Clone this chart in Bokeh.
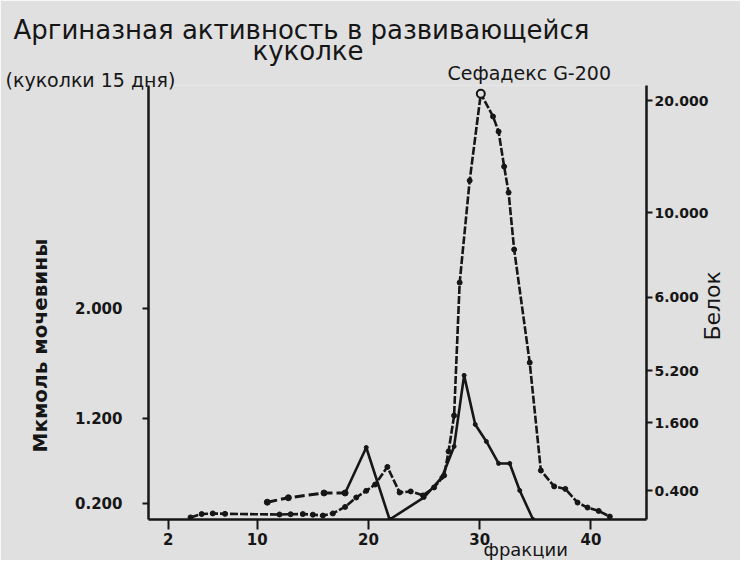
from bokeh.plotting import figure
from bokeh.models import Range1d, LinearAxis, FixedTicker, Title
from bokeh.embed import file_html
from bokeh.resources import INLINE
import math

# ---- data ----
# activity (left axis, "Мкмоль мочевины")
act_dash_fr = [10.9, 12.8, 16.0, 17.9]
act_dash_val = [0.164, 0.206, 0.251, 0.251]
act_fr = [17.9, 19.8, 21.9, 25.0, 26.6, 27.7, 28.6, 29.6, 30.6, 31.7, 32.7, 33.6, 34.8]
act_val = [0.251, 0.682, 0.0, 0.209, 0.398, 0.692, 1.365, 0.90, 0.739, 0.531, 0.531, 0.275, 0.0]

# protein (right axis, "Белок")
prot_fr = [4.0, 5.0, 6.0, 7.1, 12.0, 13.0, 14.1, 15.0, 15.9, 16.8, 17.9, 18.9, 19.8, 20.6,
           21.7, 22.8, 23.8, 24.9, 25.9, 26.8, 27.2, 27.7, 28.2, 29.1, 30.1, 31.2, 31.7,
           32.2, 32.6, 33.1, 34.5, 35.5, 36.7, 37.7, 38.8, 39.7, 40.7, 41.7]
prot_val = [0.10, 0.26, 0.29, 0.27, 0.24, 0.25, 0.26, 0.23, 0.19, 0.29, 0.60, 1.05, 1.37, 1.67,
            2.51, 1.29, 1.34, 1.15, 1.53, 2.10, 3.25, 4.96, 11.31, 16.18, 20.33, 19.24, 18.52,
            16.85, 15.61, 12.89, 7.49, 2.34, 1.58, 1.46, 0.81, 0.57, 0.41, 0.14]

x_ticks = [2, 10, 20, 30, 40]
left_tick_pos = [0.152, 0.957, 2.0]
left_tick_labels = ["0.200", "1.200", "2.000"]
right_tick_pos = [1.38, 4.63, 7.11, 10.6, 14.65, 20.0]
right_tick_labels = ["0.400", "1.600", "5.200", "6.000", "10.000", "20.000"]

title_line1 = "Аргиназная   активность  в  развивающейся"
title_line2 = "куколке"
subtitle_left = "(куколки 15 дня)"
subtitle_right = "Сефадекс  G-200"
x_label = "фракции"
left_label = "Мкмоль мочевины"
right_label = "Белок"
right_label_at = 8.54   # where the right-hand title starts (protein axis units)

BG = "#e0e0e0"
INK = "#161616"
FONT = "DejaVu Sans"

p = figure(width=740, height=560, output_backend="svg", toolbar_location=None,
           x_range=Range1d(0.22, 45.0), y_range=Range1d(0, 4.11),
           background_fill_color=BG, border_fill_color=BG, outline_line_color=None)
p.min_border_left = 148
p.min_border_right = 88
p.min_border_top = 85
p.min_border_bottom = 41
p.extra_y_ranges = {"prot": Range1d(0, 20.72)}
p.xgrid.visible = False
p.ygrid.visible = False


def style_axis(ax, tick_out, standoff, fs):
    ax.axis_line_width = 2.5
    ax.axis_line_color = INK
    ax.major_tick_line_width = 2
    ax.major_tick_line_color = INK
    ax.major_tick_out = tick_out
    ax.major_tick_in = 0
    ax.minor_tick_line_color = None
    ax.major_label_text_font = FONT
    ax.major_label_text_font_style = "bold"
    ax.major_label_text_font_size = fs
    ax.major_label_text_color = INK
    ax.major_label_standoff = standoff


for ax in p.xaxis:
    ax.ticker = FixedTicker(ticks=x_ticks)
    style_axis(ax, 10, 3, "15px")

for ax in p.yaxis:
    ax.ticker = FixedTicker(ticks=left_tick_pos)
    ax.major_label_overrides = dict(zip(left_tick_pos, left_tick_labels))
    style_axis(ax, 6, 20, "15px")

rax = LinearAxis(y_range_name="prot", ticker=FixedTicker(ticks=right_tick_pos),
                 major_label_overrides=dict(zip(right_tick_pos, right_tick_labels)))
style_axis(rax, 6, 2, "14px")
p.add_layout(rax, "right")

# right-hand title "Белок", written bottom-to-top
rlab = LinearAxis(y_range_name="prot", ticker=FixedTicker(ticks=[right_label_at]),
                  major_label_overrides={right_label_at: right_label})
rlab.axis_line_color = None
rlab.major_tick_line_color = None
rlab.minor_tick_line_color = None
rlab.major_tick_out = 0
rlab.major_tick_in = 0
rlab.major_label_standoff = 1
rlab.major_label_orientation = math.pi / 2
rlab.major_label_text_font = FONT
rlab.major_label_text_font_size = "22px"
rlab.major_label_text_color = INK
p.add_layout(rlab, "right")

# protein curve (dashed with dots)
p.line(prot_fr, prot_val, y_range_name="prot", line_color=INK, line_width=2.6, line_dash="8 2")
p.scatter(prot_fr, prot_val, y_range_name="prot", size=5, fill_color=INK, line_color=INK)
imax = prot_val.index(max(prot_val))
p.scatter([prot_fr[imax]], [prot_val[imax]], y_range_name="prot", size=8,
          fill_color=BG, line_color=INK, line_width=2)

# activity curve
p.line(act_dash_fr, act_dash_val, line_color=INK, line_width=3, line_dash="10 4")
p.scatter(act_dash_fr, act_dash_val, size=6, fill_color=INK, line_color=INK)
p.line(act_fr, act_val, line_color=INK, line_width=2.6)
p.scatter(act_fr, act_val, size=4, fill_color=INK, line_color=INK)


def title(text, loc, offset, standoff, fs, style="normal"):
    t = Title(text=text, align="left", offset=offset, standoff=standoff,
              text_font=FONT, text_font_size=fs, text_font_style=style,
              text_color=INK)
    p.add_layout(t, loc)


# texts above the frame (first added sits closest to the frame)
p.title.visible = False
title(subtitle_left, "above", -143, -11, "19px")
title(subtitle_right, "above", 299, -23, "19px")
title(title_line2, "above", 104, 12, "26px")
title(title_line1, "above", -135, -35, "26px")
# axis titles
title(x_label, "below", 335, -25, "18px")
title(left_label, "left", 67, 42, "20px", "bold")

open("out.html", "w").write(file_html(p, INLINE))
